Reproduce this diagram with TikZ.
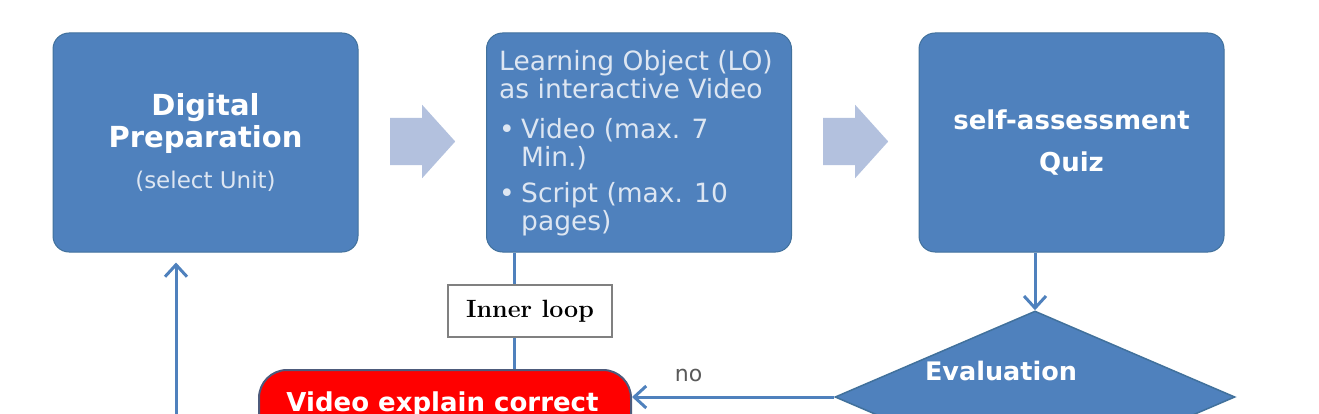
\documentclass[tikz,border=0pt]{standalone}
\usepackage{fontspec}
\newfontfamily\verdfont{DejaVu Sans}
\usetikzlibrary{shapes.geometric,shapes.arrows,arrows.meta}
\definecolor{boxblue}{HTML}{4F81BD}
\definecolor{edgeblue}{HTML}{41719C}
\definecolor{arrowblue}{HTML}{B3C1DE}
\definecolor{paletext}{HTML}{DDE6F2}
\definecolor{rededge}{HTML}{4D5B7C}
\tikzset{
  unitbox/.style={rectangle,rounded corners=16pt,fill=boxblue,draw=edgeblue,line width=1pt,
    minimum width=305pt,minimum height=219pt,inner sep=0pt,text=white,align=center},
  blockarrow/.style={single arrow,fill=arrowblue,draw=none,inner sep=0pt,text height=47pt,
    minimum height=65pt,single arrow head extend=13pt,single arrow tip angle=96,anchor=tail},
  link/.style={draw=boxblue,line width=3pt},
  linkarrow/.style={-{Straight Barb[length=12pt,width=22pt,line width=3pt]}}
}

\begin{document}
\begin{tikzpicture}[x=1pt,y=-1pt]
    \useasboundingbox (0,0) rectangle (1319,414);
    \clip (0,0) rectangle (1319,414);

    \node[unitbox,font=\verdfont\bfseries\fontsize{29pt}{32pt}\selectfont] (prep) at (205.5,142.5)
      {Digital\\Preparation\\[9pt]{\mdseries\fontsize{23pt}{28pt}\selectfont\color{paletext}(select Unit)}};
    \node[unitbox] (lo) at (639,142.5) {};
    \node[anchor=north west,inner sep=0pt,align=left,text=paletext,font=\verdfont\fontsize{26.5pt}{28pt}\selectfont] (lotext) at (499,50)
      {Learning Object (LO)\\as interactive Video\\[12pt]
       \makebox[22pt][l]{\textbullet}Video (max. 7\\
       \hspace*{22pt}Min.)\\[8pt]
       \makebox[22pt][l]{\textbullet}Script (max. 10\\
       \hspace*{22pt}pages)};
    \node[unitbox,font=\verdfont\bfseries\fontsize{26pt}{28pt}\selectfont] (quiz) at (1071.5,142.5)
      {self-assessment\\[14pt]Quiz};

    \node[blockarrow] (next1) at (390,141.5) {};
    \node[blockarrow] (next2) at (823,141.5) {};

    \node[diamond,fill=boxblue,draw=edgeblue,line width=1.5pt,inner sep=0pt,
      minimum width=400pt,minimum height=172pt] (eval) at (1035,397) {};
    \node[anchor=base,text=white,font=\verdfont\bfseries\fontsize{25.5pt}{30pt}\selectfont] (evaltext) at (1001,380) {Evaluation};

    \node[rectangle,rounded corners=28pt,fill=red,draw=rededge,line width=2pt,
      minimum width=372pt,minimum height=100pt] (explain) at (445,420) {};
    \node[anchor=base,text=white,font=\verdfont\bfseries\fontsize{26pt}{30pt}\selectfont] (explaintext) at (442.5,411) {Video explain correct};

    \coordinate (loopx) at (514,0);
    \draw[link] (lo.south -| loopx) -- (explain.north -| loopx);
    \node[fill=white,draw=gray,line width=1.5pt,minimum width=164pt,minimum height=52pt,inner sep=0pt,
      font=\bfseries\fontsize{25pt}{30pt}\selectfont] (inner) at (530,311) {Inner loop};

    \draw[link,linkarrow] (quiz.south -| eval.north) -- (eval.north);
    \draw[link,linkarrow] (eval.west) -- (eval.west -| explain.east)
      node[pos=0.72,above=10pt,text=black!65,font=\verdfont\fontsize{22pt}{26pt}\selectfont] (no) {no};
    \coordinate (back) at (176,430);
    \draw[link,linkarrow] (back) -- ([yshift=-10pt]prep.south -| back);
  \end{tikzpicture}
\end{document}
